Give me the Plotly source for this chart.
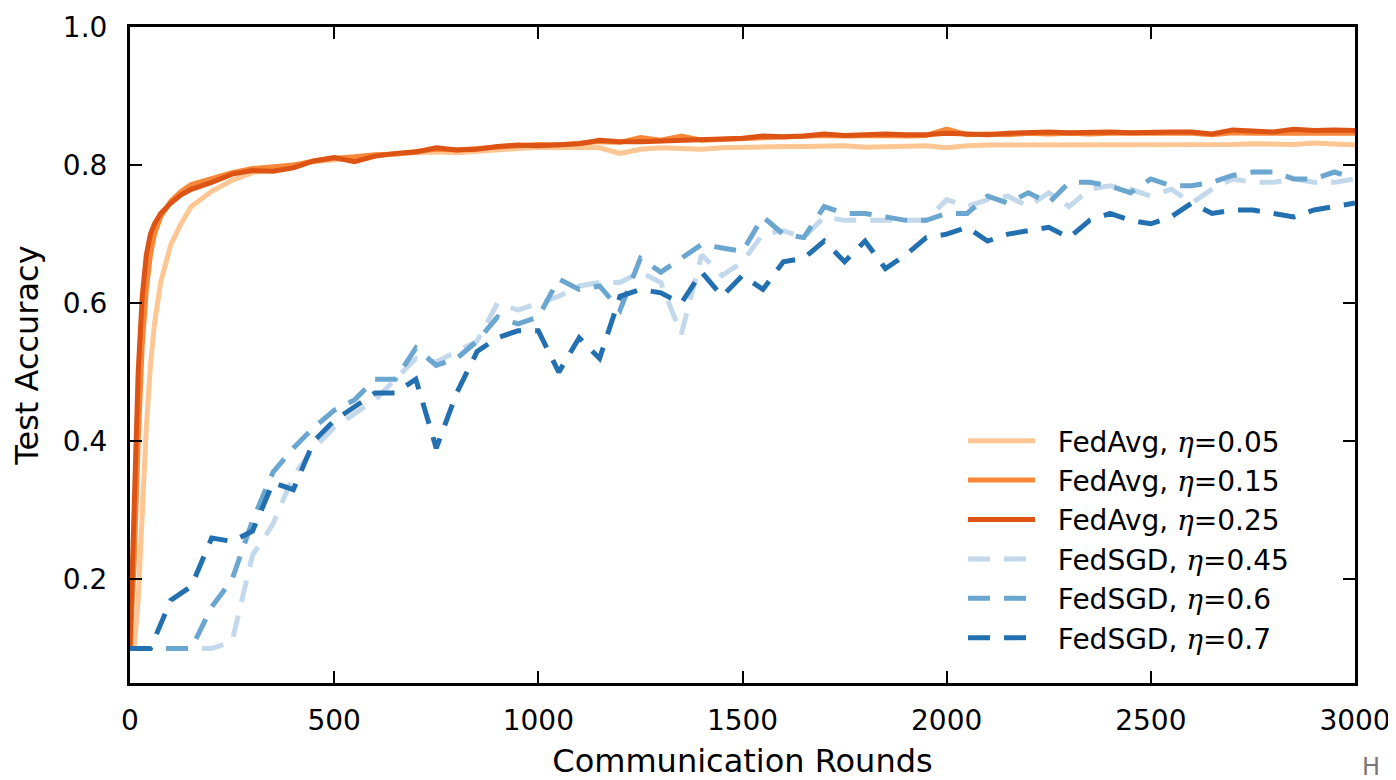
import plotly.graph_objects as go

# ---- data ----
rounds_avg = [0, 10, 20, 30, 40, 50, 60, 75, 100, 125, 150] + list(range(200, 3001, 50))
rounds_sgd = list(range(0, 3001, 50))

fedavg_005 = [0.10, 0.10, 0.17, 0.30, 0.42, 0.51, 0.57, 0.63, 0.685, 0.715, 0.74,
              0.762, 0.778, 0.789, 0.795, 0.800, 0.805, 0.808, 0.811, 0.814, 0.816,
              0.818, 0.819, 0.818, 0.820, 0.822, 0.824, 0.826, 0.825, 0.826, 0.825,
              0.817, 0.823, 0.825, 0.824, 0.823, 0.825, 0.826, 0.827, 0.827, 0.827,
              0.828, 0.828, 0.826, 0.827, 0.828, 0.828, 0.825, 0.828, 0.829, 0.829,
              0.830, 0.829, 0.829, 0.830, 0.830, 0.829, 0.830, 0.830, 0.830, 0.829,
              0.830, 0.831, 0.831, 0.830, 0.832, 0.830, 0.829]

fedavg_015 = [0.10, 0.22, 0.40, 0.54, 0.62, 0.67, 0.70, 0.725, 0.748, 0.762, 0.772,
              0.780, 0.789, 0.795, 0.798, 0.800, 0.806, 0.810, 0.812, 0.815, 0.816,
              0.820, 0.823, 0.822, 0.824, 0.826, 0.828, 0.830, 0.829, 0.832, 0.834,
              0.833, 0.840, 0.836, 0.842, 0.836, 0.837, 0.838, 0.840, 0.840, 0.841,
              0.843, 0.842, 0.843, 0.843, 0.842, 0.843, 0.852, 0.844, 0.845, 0.844,
              0.846, 0.845, 0.846, 0.845, 0.846, 0.846, 0.845, 0.846, 0.846, 0.844,
              0.847, 0.846, 0.846, 0.847, 0.846, 0.847, 0.846]

fedavg_025 = [0.10, 0.30, 0.50, 0.61, 0.67, 0.70, 0.715, 0.73, 0.745, 0.757, 0.765,
              0.775, 0.787, 0.792, 0.791, 0.796, 0.806, 0.811, 0.805, 0.813, 0.817,
              0.819, 0.825, 0.822, 0.823, 0.827, 0.829, 0.828, 0.830, 0.831, 0.836,
              0.834, 0.834, 0.835, 0.836, 0.837, 0.838, 0.839, 0.842, 0.841, 0.842,
              0.845, 0.843, 0.844, 0.845, 0.844, 0.844, 0.846, 0.845, 0.844, 0.846,
              0.847, 0.848, 0.847, 0.848, 0.848, 0.847, 0.848, 0.848, 0.848, 0.845,
              0.851, 0.849, 0.848, 0.852, 0.850, 0.851, 0.850]

fedsgd_045 = [0.10, 0.10, 0.10, 0.10, 0.10, 0.11, 0.235, 0.28, 0.35, 0.39,
              0.42, 0.44, 0.46, 0.49, 0.52, 0.515, 0.53, 0.545, 0.60, 0.59,
              0.60, 0.61, 0.625, 0.63, 0.63, 0.645, 0.63, 0.555, 0.67, 0.64,
              0.66, 0.70, 0.705, 0.695, 0.725, 0.72, 0.72, 0.72, 0.72, 0.72,
              0.75, 0.74, 0.75, 0.755, 0.74, 0.76, 0.74, 0.765, 0.77, 0.765,
              0.755, 0.765, 0.745, 0.765, 0.78, 0.775, 0.775, 0.78, 0.775, 0.775,
              0.78]

fedsgd_06 = [0.10, 0.10, 0.10, 0.10, 0.16, 0.20, 0.285, 0.355, 0.39, 0.42,
             0.445, 0.46, 0.49, 0.49, 0.535, 0.51, 0.52, 0.545, 0.58, 0.57,
             0.58, 0.635, 0.62, 0.625, 0.59, 0.665, 0.645, 0.665, 0.685, 0.68,
             0.675, 0.725, 0.70, 0.695, 0.74, 0.73, 0.73, 0.725, 0.72, 0.72,
             0.73, 0.73, 0.755, 0.745, 0.76, 0.745, 0.775, 0.775, 0.77, 0.76,
             0.78, 0.77, 0.77, 0.775, 0.785, 0.79, 0.79, 0.78, 0.78, 0.79,
             0.78]

fedsgd_07 = [0.10, 0.10, 0.17, 0.19, 0.26, 0.255, 0.27, 0.34, 0.33, 0.40,
             0.43, 0.45, 0.47, 0.47, 0.49, 0.39, 0.47, 0.53, 0.55, 0.56,
             0.56, 0.50, 0.55, 0.52, 0.61, 0.62, 0.615, 0.60, 0.645, 0.61,
             0.64, 0.62, 0.66, 0.665, 0.69, 0.66, 0.69, 0.65, 0.67, 0.695,
             0.70, 0.71, 0.69, 0.70, 0.705, 0.71, 0.695, 0.72, 0.73, 0.72,
             0.715, 0.725, 0.745, 0.73, 0.735, 0.735, 0.73, 0.725, 0.735, 0.74,
             0.745]

x_ticks = [0, 500, 1000, 1500, 2000, 2500, 3000]
y_ticks = [0.2, 0.4, 0.6, 0.8, 1.0]

ETA = "<span style=\"font-family:'DejaVu Serif'\"><i>η</i></span>"
PAD = "\u00a0\u00a0"

series = [
    ("FedAvg, " + ETA + "=0.05", rounds_avg, fedavg_005, "#fdc692", None),
    ("FedAvg, " + ETA + "=0.15", rounds_avg, fedavg_015, "#f7883a", None),
    ("FedAvg, " + ETA + "=0.25", rounds_avg, fedavg_025, "#dc5314", None),
    ("FedSGD, " + ETA + "=0.45", rounds_sgd, fedsgd_045, "#c4d8ec", "22px,14px"),
    ("FedSGD, " + ETA + "=0.6", rounds_sgd, fedsgd_06, "#6aa6d0", "22px,14px"),
    ("FedSGD, " + ETA + "=0.7", rounds_sgd, fedsgd_07, "#2370b1", "22px,14px"),
]

fig = go.Figure()
for name, xs, ys, color, dash in series:
    line = dict(color=color, width=5)
    if dash:
        line["dash"] = dash
    fig.add_trace(go.Scatter(x=xs, y=ys, mode="lines", name=PAD + name, line=line))

font_family = "DejaVu Sans"
fig.update_layout(
    width=1388, height=772,
    margin=dict(l=122, r=41, t=19, b=97, autoexpand=False),
    paper_bgcolor="white", plot_bgcolor="white",
    font=dict(family=font_family, size=28, color="black"),
    showlegend=True,
    legend=dict(
        x=0.68, y=0.407, xanchor="left", yanchor="top",
        font=dict(size=28, family=font_family, color="black"),
        bgcolor="rgba(255,255,255,0)", borderwidth=0,
        tracegroupgap=0, itemwidth=67,
    ),
    xaxis=dict(
        range=[0, 3000], tickvals=x_ticks, ticktext=[str(v) for v in x_ticks],
        showgrid=False, zeroline=False, automargin=False,
        showline=True, linecolor="black", linewidth=3, mirror="ticks",
        ticks="inside", ticklen=12, tickwidth=2, tickcolor="black",
        tickfont=dict(size=28), ticklabelstandoff=10,
        title=dict(text="Communication Rounds", font=dict(size=32), standoff=24),
    ),
    yaxis=dict(
        range=[0.05, 1.0], tickvals=y_ticks, ticktext=["%.1f" % v for v in y_ticks],
        showgrid=False, zeroline=False, automargin=False,
        showline=True, linecolor="black", linewidth=3, mirror="ticks",
        ticks="inside", ticklen=12, tickwidth=2, tickcolor="black",
        tickfont=dict(size=28), ticklabelstandoff=14,
        title=dict(text="Test Accuracy", font=dict(size=32), standoff=16),
    ),
)

fig.add_annotation(
    text="H", xref="paper", yref="paper", x=1.004, y=-0.104,
    xanchor="left", yanchor="top", showarrow=False,
    font=dict(size=24, color="#777777", family=font_family),
)

fig.write_html("out.html")
